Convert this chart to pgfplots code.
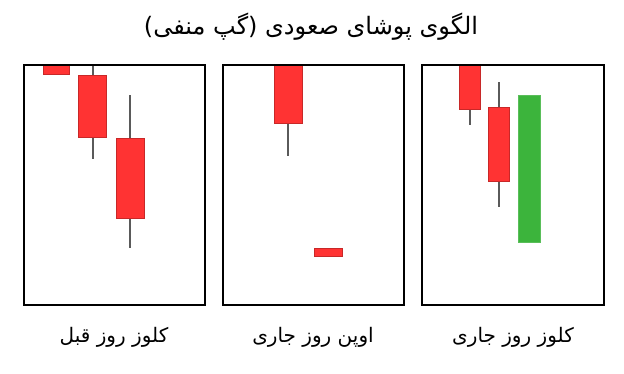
\documentclass[border=0pt]{standalone}
\usepackage{fontspec}
\usepackage{pgfplots}
\pgfplotsset{compat=1.18}
\TeXXeTstate=1
\newfontfamily\arabicfont[Script=Arabic]{DejaVu Sans}
\definecolor{cred}{RGB}{255,51,51}
\definecolor{credb}{RGB}{200,40,40}
\definecolor{cgreen}{RGB}{60,180,60}
\definecolor{cgreenb}{RGB}{90,190,90}
\definecolor{wick}{RGB}{90,90,90}
\pgfplotsset{
  panel/.style={scale only axis, width=181bp, height=240bp, y dir=reverse,
    ymin=65, ymax=305, xtick=\empty, ytick=\empty, axis line style={line width=1.5pt},
    axis on top, clip=true, anchor=south west},
  body/.style={fill=cred, draw=credb, line width=0.5pt},
  gbody/.style={fill=cgreen, draw=cgreenb, line width=0.5pt},
  wk/.style={draw=wick, line width=2pt},
}
\begin{document}
\begin{tikzpicture}
\useasboundingbox (0,0) rectangle (624bp,374bp);
% panel 1
\begin{axis}[panel, at={(24bp,69bp)}, xmin=24, xmax=205]
\addplot[wk] coordinates {(92.7,50) (92.7,158.7)};
\addplot[wk] coordinates {(130,95) (130,248.3)};
\addplot[body] coordinates {(43.3,55) (69.3,55) (69.3,74) (43.3,74)} -- cycle;
\addplot[body] coordinates {(78.7,75.7) (106,75.7) (106,137.7) (78.7,137.7)} -- cycle;
\addplot[body] coordinates {(116,138.7) (144,138.7) (144,218.7) (116,218.7)} -- cycle;
\end{axis}
% panel 2
\begin{axis}[panel, at={(223bp,69bp)}, xmin=223, xmax=404]
\addplot[wk] coordinates {(287.7,50) (287.7,156)};
\addplot[body] coordinates {(274.3,55) (302,55) (302,123) (274.3,123)} -- cycle;
\addplot[body] coordinates {(314,248.7) (342.3,248.7) (342.3,256.3) (314,256.3)} -- cycle;
\end{axis}
% panel 3
\begin{axis}[panel, at={(422bp,69bp)}, xmin=422, xmax=604, width=182bp]
\addplot[wk] coordinates {(470,50) (470,125.3)};
\addplot[wk] coordinates {(499,82.3) (499,206.7)};
\addplot[body] coordinates {(459.3,55) (480,55) (480,109.3) (459.3,109.3)} -- cycle;
\addplot[body] coordinates {(488.3,107.3) (509,107.3) (509,181.3) (488.3,181.3)} -- cycle;
\addplot[gbody] coordinates {(518.3,95.3) (540.7,95.3) (540.7,242.7) (518.3,242.7)} -- cycle;
\end{axis}
\node at (311bp,347bp) {\arabicfont\fontsize{24bp}{28bp}\selectfont\beginR الگوی پوشای صعودی (گپ منفی)\endR};
\node at (114bp,37bp) {\arabicfont\fontsize{20bp}{24bp}\selectfont\beginR کلوز روز قبل\endR};
\node at (313bp,37bp) {\arabicfont\fontsize{20bp}{24bp}\selectfont\beginR اوپن روز جاری\endR};
\node at (513bp,37bp) {\arabicfont\fontsize{20bp}{24bp}\selectfont\beginR کلوز روز جاری\endR};
\end{tikzpicture}
\end{document}
